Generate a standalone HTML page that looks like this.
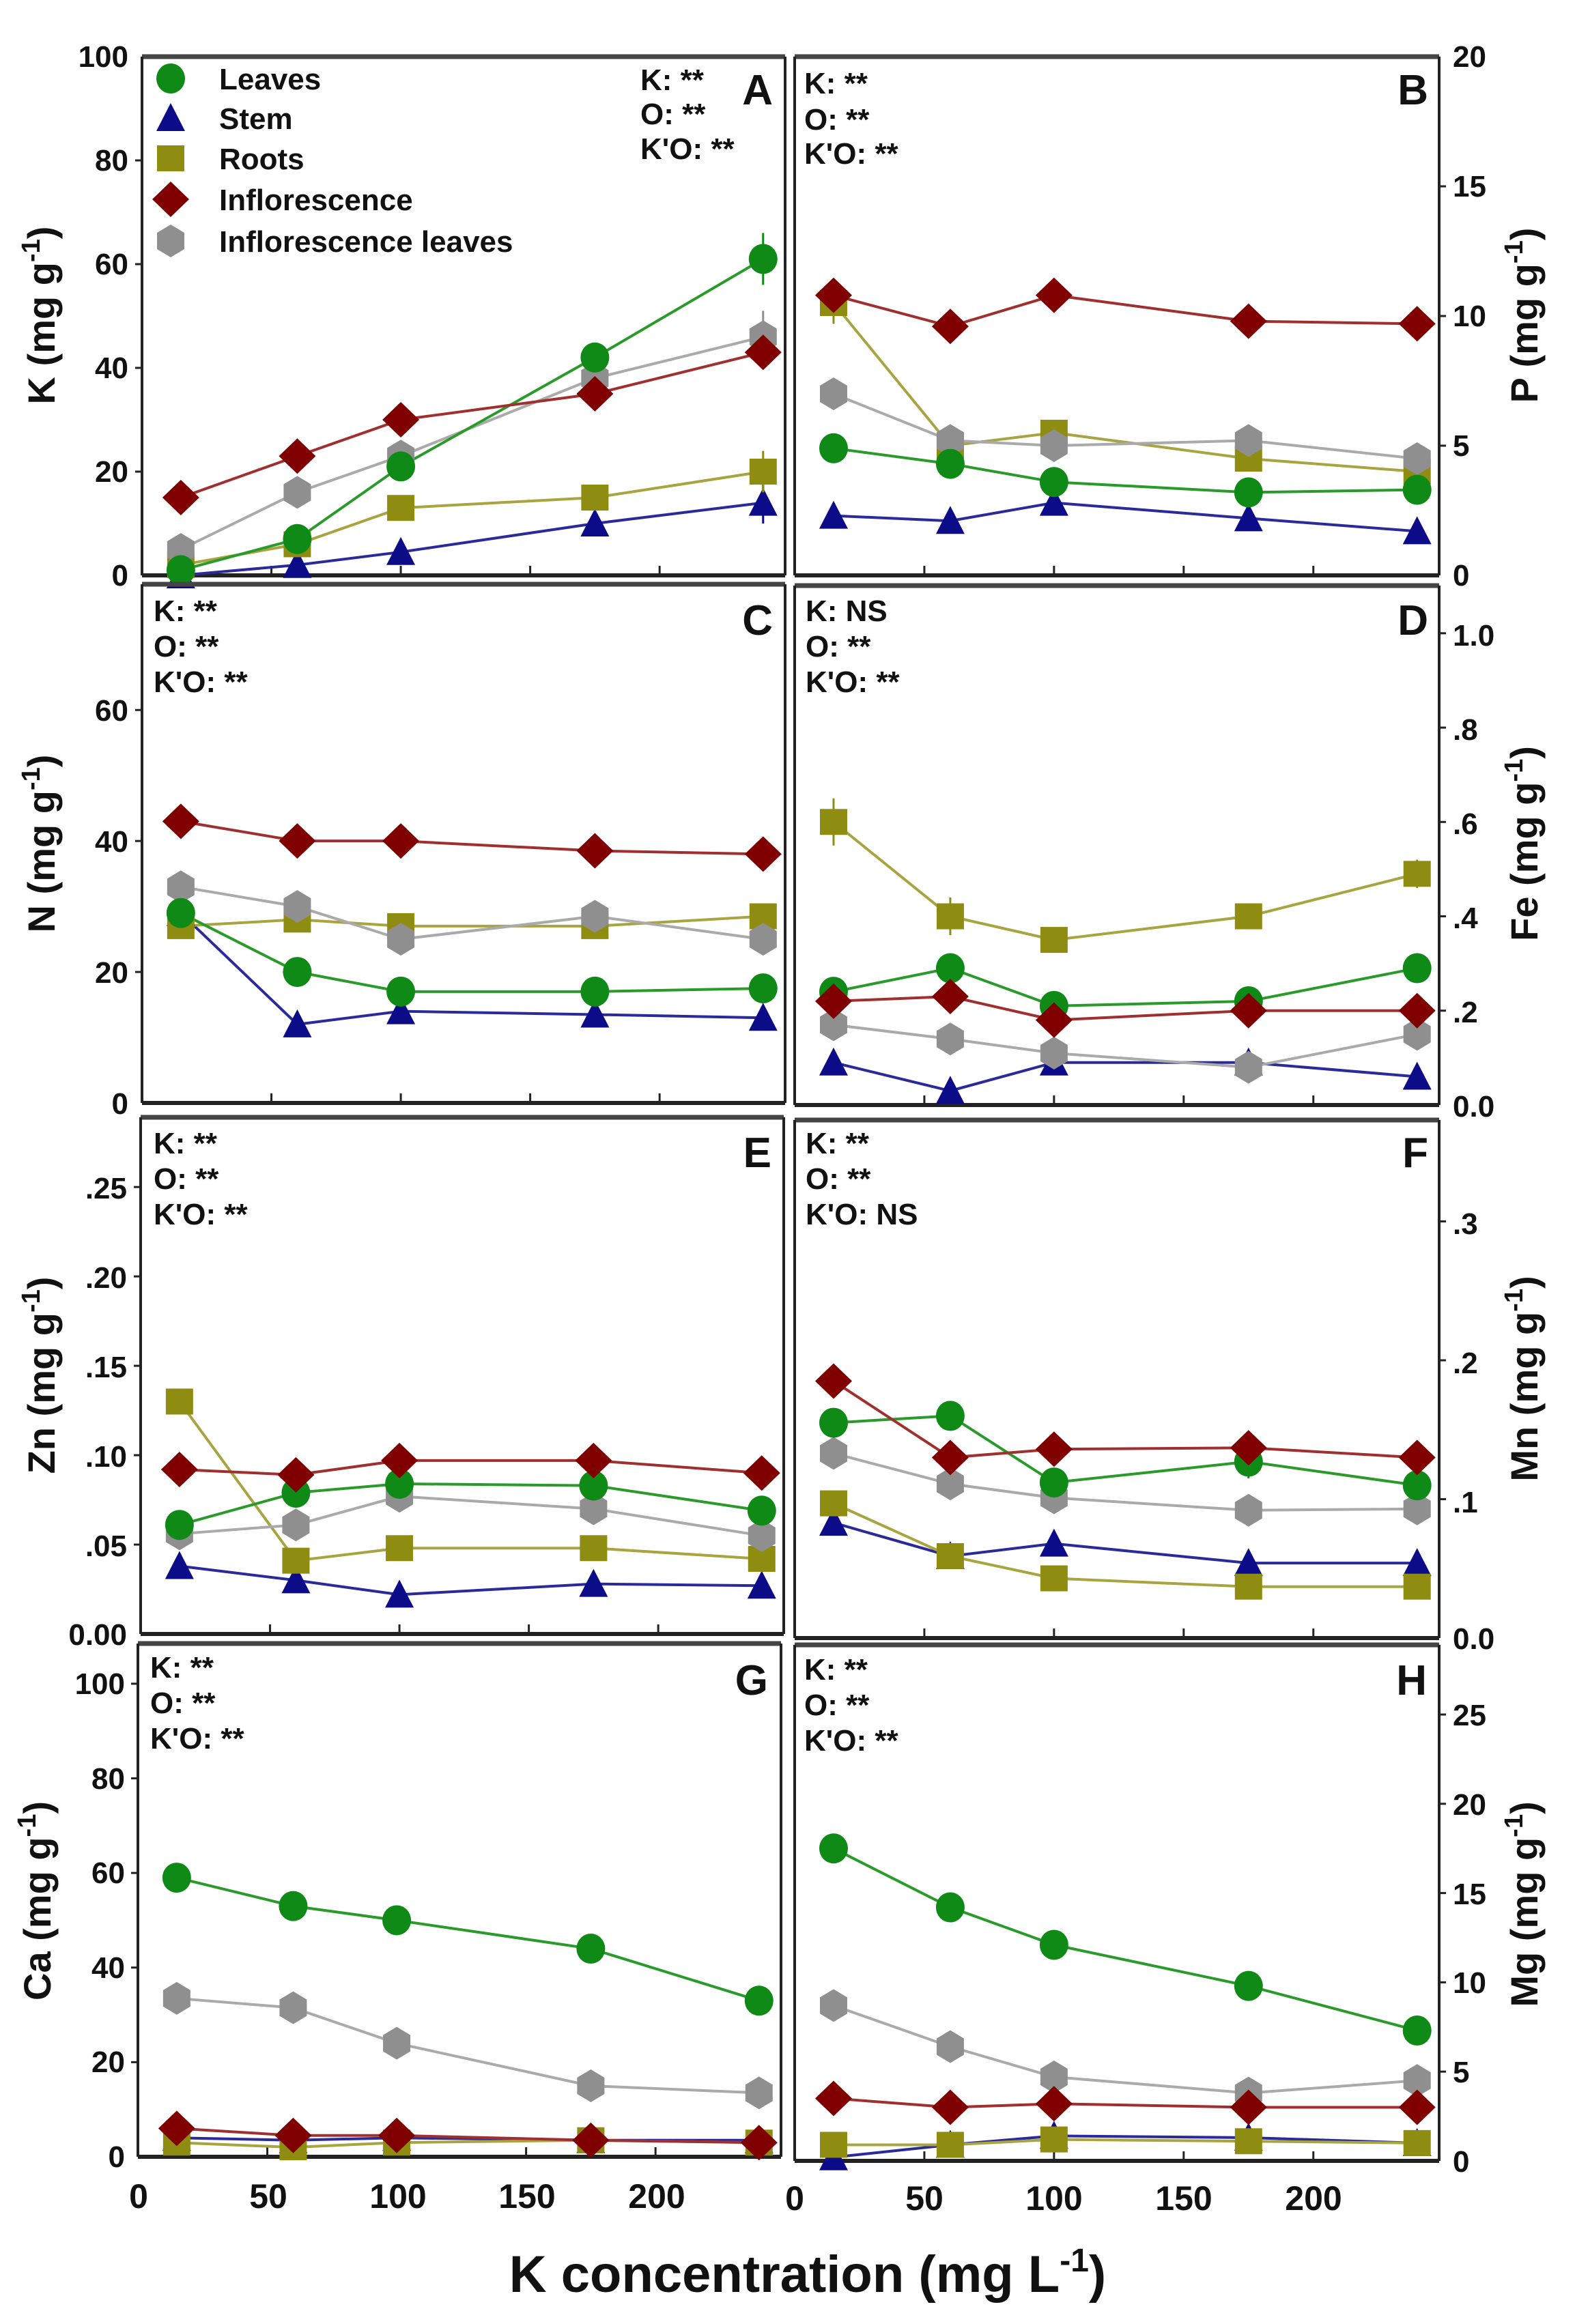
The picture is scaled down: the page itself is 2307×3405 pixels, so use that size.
<!DOCTYPE html>
<html><head><meta charset="utf-8">
<style>
html,body{margin:0;padding:0;background:#fff;}
svg{display:block;}
text{font-family:"Liberation Sans",sans-serif;font-weight:bold;fill:#111;}
.tk{font-size:44px;font-family:"Liberation Sans Narrow","Liberation Sans",sans-serif;font-weight:bold;}
.st{font-size:44px;font-family:"Liberation Sans Narrow","Liberation Sans",sans-serif;font-weight:bold;}
.lg{font-size:44px;font-family:"Liberation Sans Narrow","Liberation Sans",sans-serif;font-weight:bold;}
.pl{font-size:62px;font-family:"Liberation Sans",sans-serif;font-weight:bold;}
.yl{font-size:56px;font-family:"Liberation Sans",sans-serif;font-weight:bold;}
</style></head>
<body>
<svg id="s" width="2307" height="3405" viewBox="0 0 2307 3405" xmlns="http://www.w3.org/2000/svg">
<rect width="2307" height="3405" fill="#fff"/>
<g id="plots"></g>
<text class="lg" x="321" y="131">Leaves</text>
<text class="lg" x="321" y="189">Stem</text>
<text class="lg" x="321" y="248">Roots</text>
<text class="lg" x="321" y="308">Inflorescence</text>
<text class="lg" x="321" y="369">Inflorescence leaves</text>

<text class="st" x="938" y="132">K: **</text><text class="st" x="938" y="182">O: **</text><text class="st" x="938" y="233">K'O: **</text>
<text class="pl" x="1132" y="153" text-anchor="end">A</text>
<text class="st" x="1178" y="137">K: **</text><text class="st" x="1178" y="190">O: **</text><text class="st" x="1178" y="240">K'O: **</text>
<text class="pl" x="2092" y="153" text-anchor="end">B</text>

<text class="st" x="225" y="910">K: **</text><text class="st" x="225" y="962">O: **</text><text class="st" x="225" y="1014">K'O: **</text>
<text class="pl" x="1132" y="930" text-anchor="end">C</text>
<text class="st" x="1180" y="910">K: NS</text><text class="st" x="1180" y="962">O: **</text><text class="st" x="1180" y="1014">K'O: **</text>
<text class="pl" x="2092" y="930" text-anchor="end">D</text>

<text class="st" x="225" y="1690">K: **</text><text class="st" x="225" y="1742">O: **</text><text class="st" x="225" y="1794">K'O: **</text>
<text class="pl" x="1130" y="1710" text-anchor="end">E</text>
<text class="st" x="1180" y="1690">K: **</text><text class="st" x="1180" y="1742">O: **</text><text class="st" x="1180" y="1794">K'O: NS</text>
<text class="pl" x="2092" y="1710" text-anchor="end">F</text>

<text class="st" x="220" y="2458">K: **</text><text class="st" x="220" y="2510">O: **</text><text class="st" x="220" y="2562">K'O: **</text>
<text class="pl" x="1125" y="2483" text-anchor="end">G</text>
<text class="st" x="1178" y="2461">K: **</text><text class="st" x="1178" y="2513">O: **</text><text class="st" x="1178" y="2565">K'O: **</text>
<text class="pl" x="2090" y="2483" text-anchor="end">H</text>

<g class="tk" text-anchor="end">
<text x="188" y="98">100</text><text x="188" y="250">80</text><text x="188" y="402">60</text><text x="188" y="554">40</text><text x="188" y="706">20</text><text x="188" y="858">0</text>
<text x="188" y="1056">60</text><text x="188" y="1248">40</text><text x="188" y="1440">20</text><text x="188" y="1632">0</text>
<text x="186" y="1756">.25</text><text x="186" y="1887">.20</text><text x="186" y="2018">.15</text><text x="186" y="2149">.10</text><text x="186" y="2280">.05</text><text x="186" y="2410">0.00</text>
<text x="183" y="2482">100</text><text x="183" y="2621">80</text><text x="183" y="2759">60</text><text x="183" y="2898">40</text><text x="183" y="3036">20</text><text x="183" y="3175">0</text>
</g>
<g class="tk" text-anchor="start">
<text x="2128" y="98">20</text><text x="2128" y="288">15</text><text x="2128" y="478">10</text><text x="2128" y="668">5</text><text x="2128" y="858">0</text>
<text x="2128" y="946">1.0</text><text x="2128" y="1084">.8</text><text x="2128" y="1222">.6</text><text x="2128" y="1360">.4</text><text x="2128" y="1498">.2</text><text x="2128" y="1636">0.0</text>
<text x="2128" y="1808">.3</text><text x="2128" y="2012">.2</text><text x="2128" y="2216">.1</text><text x="2128" y="2416">0.0</text>
<text x="2128" y="2528">25</text><text x="2128" y="2659">20</text><text x="2128" y="2790">15</text><text x="2128" y="2920">10</text><text x="2128" y="3051">5</text><text x="2128" y="3182">0</text>
</g>
<g class="tk" text-anchor="middle" style="font-size:50px">
<text x="203" y="3235">0</text><text x="393" y="3235">50</text><text x="583" y="3235">100</text><text x="772" y="3235">150</text><text x="962" y="3235">200</text>
<text x="1164" y="3238">0</text><text x="1354" y="3238">50</text><text x="1544" y="3238">100</text><text x="1734" y="3238">150</text><text x="1924" y="3238">200</text>
</g>
<text class="yl" transform="translate(80,462) rotate(-90)" text-anchor="middle">K (mg g<tspan dy="-22" font-size="38">-1</tspan><tspan dy="22">)</tspan></text>
<text class="yl" transform="translate(2252,462) rotate(-90)" text-anchor="middle">P (mg g<tspan dy="-22" font-size="38">-1</tspan><tspan dy="22">)</tspan></text>
<text class="yl" transform="translate(80,1236) rotate(-90)" text-anchor="middle">N (mg g<tspan dy="-22" font-size="38">-1</tspan><tspan dy="22">)</tspan></text>
<text class="yl" transform="translate(2252,1236) rotate(-90)" text-anchor="middle">Fe (mg g<tspan dy="-22" font-size="38">-1</tspan><tspan dy="22">)</tspan></text>
<text class="yl" transform="translate(80,2015) rotate(-90)" text-anchor="middle">Zn (mg g<tspan dy="-22" font-size="38">-1</tspan><tspan dy="22">)</tspan></text>
<text class="yl" transform="translate(2252,2020) rotate(-90)" text-anchor="middle">Mn (mg g<tspan dy="-22" font-size="38">-1</tspan><tspan dy="22">)</tspan></text>
<text class="yl" transform="translate(74,2785) rotate(-90)" text-anchor="middle">Ca (mg g<tspan dy="-22" font-size="38">-1</tspan><tspan dy="22">)</tspan></text>
<text class="yl" transform="translate(2252,2790) rotate(-90)" text-anchor="middle">Mg (mg g<tspan dy="-22" font-size="38">-1</tspan><tspan dy="22">)</tspan></text>
<text x="1183" y="3358" text-anchor="middle" style="font-size:76px;font-family:'Liberation Sans Narrow','Liberation Sans',sans-serif;font-weight:bold">K concentration (mg L<tspan dy="-30" font-size="48">-1</tspan><tspan dy="30">)</tspan></text>
</svg>
<script>
(function(){
var NS="http://www.w3.org/2000/svg";
var G=document.getElementById("plots");
function el(t,a){var e=document.createElementNS(NS,t);for(var k in a)e.setAttribute(k,a[k]);G.appendChild(e);return e;}
var X=[15,60,100,175,240];
var C=["#0f8a16","#0c0c88","#8f8c12","#800000","#8f8f8f"];
var LC=["#2a9a2a","#2a2a9a","#a8a440","#a03030","#aaaaaa"];
var P=[
 {x0:208,x1:1150,t:83,b:843,ym:100,yt:[20,40,60,80],side:"L",
  d:[[1,7,21,42,61],[0,2,4.5,10,14],[2,6,13,15,20],[15,23,30,35,43],[5,16,23,38,46]],e:[[0,0,0,0,5],[0,0,0,0,4],[0,0,0,0,4],[0,0,0,0,0],[0,0,0,0,5]]},
 {x0:1164,x1:2108,t:83,b:843,ym:20,yt:[5,10,15],side:"R",
  d:[[4.9,4.3,3.6,3.2,3.3],[2.3,2.1,2.8,2.2,1.7],[10.5,5.0,5.5,4.5,4.0],[10.8,9.6,10.8,9.8,9.7],[7,5.2,5.0,5.2,4.5]],e:[[0,0,0,0,0],[0,0,0,0,0],[0.8,0,0.4,0,0],[0,0,0,0,0],[0,0,0,0,0]]},
 {x0:208,x1:1150,t:856,b:1616,ym:79.2,yt:[20,40,60],side:"L",
  d:[[29,20,17,17,17.5],[29,12,14,13.5,13],[27,28,27,27,28.5],[43,40,40,38.5,38],[33,30,25,28.5,25]],e:[[0,0,0,0,0],[0,0,0,0,0],[0,0,0,0,0],[0,0,0,0,0],[0,0,0,0,0]]},
 {x0:1164,x1:2108,t:858,b:1619,ym:1.101,yt:[0.2,0.4,0.6,0.8,1.0],side:"R",
  d:[[0.24,0.29,0.21,0.22,0.29],[0.09,0.03,0.09,0.09,0.06],[0.60,0.40,0.35,0.40,0.49],[0.22,0.23,0.18,0.20,0.20],[0.17,0.14,0.11,0.08,0.15]],e:[[0,0,0,0,0],[0,0,0,0,0],[0.05,0.04,0,0,0.03],[0,0,0,0,0],[0,0,0,0,0]]},
 {x0:206,x1:1148,t:1637,b:2394,ym:0.289,yt:[0.05,0.10,0.15,0.20,0.25],side:"L",
  d:[[0.061,0.079,0.084,0.083,0.069],[0.038,0.030,0.022,0.028,0.027],[0.130,0.041,0.048,0.048,0.042],[0.092,0.089,0.097,0.097,0.090],[0.056,0.061,0.077,0.070,0.055]],e:[[0,0,0,0,0],[0,0,0,0,0],[0,0,0,0,0],[0,0,0,0,0],[0,0,0,0,0]]},
 {x0:1164,x1:2108,t:1641,b:2400,ym:0.373,yt:[0.1,0.2,0.3],side:"R",
  d:[[0.155,0.160,0.112,0.127,0.110],[0.083,0.059,0.068,0.054,0.054],[0.097,0.059,0.043,0.037,0.037],[0.185,0.130,0.136,0.137,0.130],[0.133,0.111,0.101,0.092,0.093]],e:[[0,0,0,0.012,0],[0,0,0,0,0],[0,0,0,0,0],[0.01,0,0,0,0],[0,0,0,0,0]]},
 {x0:202,x1:1144,t:2408,b:3160,ym:108.5,yt:[20,40,60,80,100],side:"L",
  d:[[59,53,50,44,33],[4,3.5,4,3.5,3.5],[3,2,3,3.5,3],[6,4.5,4.5,3.5,3],[33.5,31.5,24,15,13.5]],e:[[0,3,0,0,0],[0,0,0,0,0],[0,0,0,0,0],[0,0,0,0,0],[0,3,0,0,0]]},
 {x0:1164,x1:2108,t:2410,b:3166,ym:28.9,yt:[5,10,15,20,25],side:"R",
  d:[[17.5,14.2,12.1,9.8,7.3],[0.2,0.9,1.4,1.3,1.0],[0.9,0.9,1.2,1.1,1.0],[3.5,3.0,3.2,3.0,3.0],[8.7,6.4,4.7,3.8,4.5]],e:[[0,0.6,0,0,0],[0,0,0,0,0],[0,0,0,0,0],[0,0,0,0,0],[0,0,0,0,0]]}
];
function marker(k,x,y){
 var c=C[k];
 if(k==0) el("ellipse",{cx:x,cy:y,rx:21,ry:22,fill:c});
 else if(k==1) el("polygon",{points:(x-21)+","+(y+19)+" "+(x+21)+","+(y+19)+" "+x+","+(y-22),fill:c});
 else if(k==2) el("rect",{x:x-20,y:y-19,width:40,height:38,fill:c});
 else if(k==3) el("polygon",{points:(x-27)+","+y+" "+x+","+(y-26)+" "+(x+27)+","+y+" "+x+","+(y+26),fill:c});
 else el("polygon",{points:(x-20)+","+(y-12)+" "+x+","+(y-24)+" "+(x+20)+","+(y-12)+" "+(x+20)+","+(y+12)+" "+x+","+(y+24)+" "+(x-20)+","+(y+12),fill:c});
}
P.forEach(function(p){
 var sx=(p.x1-p.x0)/248.5, sy=(p.b-p.t)/p.ym;
 function X_(v){return p.x0+v*sx;} function Y_(v){return p.b-v*sy;}
 el("line",{x1:p.x0,y1:p.t,x2:p.x1,y2:p.t,stroke:"#444","stroke-width":7});
 el("line",{x1:p.x0,y1:p.b,x2:p.x1,y2:p.b,stroke:"#222","stroke-width":6});
 el("line",{x1:p.x0,y1:p.t,x2:p.x0,y2:p.b,stroke:"#222","stroke-width":4});
 el("line",{x1:p.x1,y1:p.t,x2:p.x1,y2:p.b,stroke:"#222","stroke-width":4});
 [50,100,150,200].forEach(function(v){el("line",{x1:X_(v),y1:p.b,x2:X_(v),y2:p.b-14,stroke:"#222","stroke-width":3});});
 p.yt.forEach(function(v){var y=Y_(v);
  if(p.side=="L") el("line",{x1:p.x0-10,y1:y,x2:p.x0,y2:y,stroke:"#222","stroke-width":3});
  else el("line",{x1:p.x1,y1:y,x2:p.x1+10,y2:y,stroke:"#222","stroke-width":3});});
 var order=[1,2,4,0,3];
 order.forEach(function(k){
  var pts=X.map(function(x,i){return X_(x)+","+Y_(p.d[k][i]);}).join(" ");
  el("polyline",{points:pts,fill:"none",stroke:LC[k],"stroke-width":4});
 });
 order.forEach(function(k){
  X.forEach(function(x,i){
   var e=p.e[k][i]; if(e>0) el("line",{x1:X_(x),y1:Y_(p.d[k][i]+e),x2:X_(x),y2:Y_(p.d[k][i]-e),stroke:C[k],"stroke-width":3});
   marker(k,X_(x),Y_(p.d[k][i]));
  });
 });
});
[115,173,232,292,353].forEach(function(y,k){marker(k,250,y);});
})();
</script>
</body></html>
